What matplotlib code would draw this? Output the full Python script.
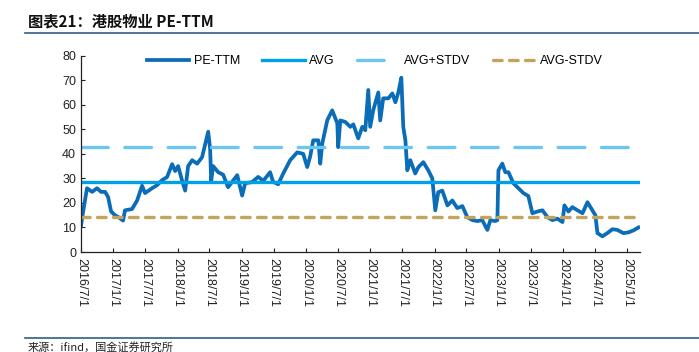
import matplotlib
matplotlib.use("Agg")
import matplotlib.pyplot as plt
import matplotlib.dates as mdates
import pandas as pd

plt.rcParams["font.family"] = ["Liberation Sans", "Noto Sans CJK SC", "DejaVu Sans"]

# PE-TTM of HK-listed property management stocks
DATES = [
    "2016-07-01", "2016-07-12", "2016-08-04", "2016-09-02", "2016-09-30",
    "2016-10-23", "2016-11-15", "2016-12-02", "2016-12-19", "2017-01-10",
    "2017-01-28", "2017-02-25", "2017-03-08", "2017-04-17", "2017-05-16",
    "2017-06-13", "2017-06-30", "2017-08-09", "2017-09-06", "2017-10-05",
    "2017-11-02", "2017-12-01", "2017-12-18", "2018-01-04", "2018-01-27",
    "2018-02-13", "2018-03-02", "2018-03-25", "2018-04-22", "2018-05-20",
    "2018-06-07", "2018-06-24", "2018-07-05", "2018-07-11", "2018-07-22",
    "2018-08-20", "2018-09-17", "2018-10-15", "2018-11-07", "2018-12-06",
    "2019-01-03", "2019-01-20", "2019-03-01", "2019-04-04", "2019-05-03",
    "2019-06-11", "2019-06-28", "2019-07-27", "2019-08-24", "2019-10-03",
    "2019-11-12", "2019-12-16", "2020-01-08", "2020-01-25", "2020-02-11",
    "2020-03-11", "2020-03-22", "2020-04-02", "2020-05-01", "2020-05-29",
    "2020-06-27", "2020-07-02", "2020-07-14", "2020-08-11", "2020-09-09",
    "2020-09-26", "2020-10-24", "2020-11-16", "2020-12-03", "2020-12-20",
    "2020-12-31", "2021-01-17", "2021-02-15", "2021-02-26", "2021-03-15",
    "2021-04-13", "2021-05-06", "2021-05-23", "2021-06-09", "2021-06-26",
    "2021-07-07", "2021-07-19", "2021-07-30", "2021-08-16", "2021-09-13",
    "2021-10-01", "2021-10-29", "2021-11-26", "2021-12-19", "2022-01-05",
    "2022-01-22", "2022-02-14", "2022-03-15", "2022-04-12", "2022-05-10",
    "2022-06-08", "2022-07-06", "2022-08-04", "2022-09-01", "2022-09-29",
    "2022-10-28", "2022-11-14", "2022-12-12", "2022-12-24", "2022-12-30",
    "2023-01-21", "2023-02-07", "2023-02-25", "2023-03-25", "2023-04-17",
    "2023-05-21", "2023-06-18", "2023-07-11", "2023-08-09", "2023-09-06",
    "2023-10-05", "2023-11-02", "2023-11-30", "2023-12-29", "2024-01-09",
    "2024-02-01", "2024-02-23", "2024-03-23", "2024-04-21", "2024-05-19",
    "2024-06-16", "2024-07-03", "2024-07-15", "2024-08-12", "2024-09-09",
    "2024-10-08", "2024-11-05", "2024-12-09", "2025-01-07", "2025-02-04",
    "2025-03-05",
]
PE_TTM = [
    10.6, 16.0, 26.0, 24.5, 26.0,
    24.5, 24.5, 22.4, 16.5, 15.0,
    14.3, 12.8, 17.0, 17.5, 21.0,
    27.0, 24.0, 26.0, 27.2, 29.3,
    30.5, 35.8, 33.0, 35.0, 29.0,
    25.0, 35.0, 37.4, 36.0, 38.6,
    44.0, 49.0, 42.0, 29.0, 35.0,
    32.5, 31.5, 26.4, 28.6, 31.3,
    23.0, 28.0, 28.5, 30.6, 29.0,
    32.5, 28.6, 27.6, 31.9, 37.4,
    40.6, 40.0, 34.6, 39.0, 45.5,
    45.5, 36.0, 44.0, 53.7, 57.7,
    52.4, 42.7, 53.6, 53.0, 51.0,
    52.0, 46.3, 51.0, 49.6, 66.0,
    51.0, 57.7, 65.0, 53.6, 62.6,
    62.6, 64.6, 61.0, 65.0, 71.0,
    51.0, 45.5, 33.3, 37.4, 32.0,
    34.6, 36.6, 33.3, 30.0, 17.0,
    24.4, 25.0, 19.0, 21.0, 17.9,
    18.7, 14.2, 13.0, 12.6, 13.0,
    9.0, 13.0, 12.6, 13.0, 33.3,
    36.0, 32.5, 32.5, 28.0, 26.4,
    24.0, 22.8, 15.8, 16.5, 17.0,
    14.2, 13.0, 13.6, 12.2, 19.0,
    16.5, 18.3, 17.0, 15.8, 20.3,
    17.0, 15.0, 7.7, 6.4, 7.7,
    9.3, 9.0, 7.7, 8.0, 8.8,
    10.0,
]
AVG = 28.5
STDV = 14.2

TICK_DATES = pd.date_range("2016-07-01", "2025-01-01", freq="6MS")

C_PE = "#0b6cb8"
C_AVG = "#00a0e9"
C_UP = "#6cc6f2"
C_DN = "#c4a35c"


def main() -> None:
    dates = pd.to_datetime(DATES)
    first, last = dates[0], dates[-1]

    fig = plt.figure(figsize=(6.99, 3.52), dpi=100)
    ax = fig.add_axes([0.1159, 0.284, 0.8, 0.558])

    ax.plot(dates, PE_TTM, color=C_PE, lw=2.7, label="PE-TTM",
            solid_joinstyle="round")
    ax.plot([first, last], [AVG, AVG], color=C_AVG, lw=2.4, label="AVG")
    ax.plot([first, last], [AVG + STDV] * 2, color=C_UP, lw=2.4,
            dashes=(8, 5), dash_capstyle="round", label="AVG+STDV")
    ax.plot([first, last], [AVG - STDV] * 2, color=C_DN, lw=2.4,
            dashes=(2.6, 2.2), dash_capstyle="round", label="AVG-STDV")

    ax.set_xlim(pd.Timestamp("2016-07-01"), pd.Timestamp("2025-03-15"))
    ax.set_ylim(0, 80)
    ax.set_yticks(range(0, 81, 10))
    ax.set_xticks(TICK_DATES)
    ax.xaxis.set_major_formatter(
        plt.FuncFormatter(lambda v, _: "{0.year}/{0.month}/1".format(
            mdates.num2date(v))))
    for lab in ax.get_xticklabels():
        lab.set_rotation(-90)
    ax.tick_params(axis="both", direction="in", length=3, width=0.8,
                   labelsize=9, colors="#222222")
    ax.tick_params(axis="x", pad=4)
    for s in ("top", "right"):
        ax.spines[s].set_visible(False)
    for s in ("left", "bottom"):
        ax.spines[s].set_color("#222222")
        ax.spines[s].set_linewidth(0.9)

    ax.legend(loc="center", bbox_to_anchor=(0.525, 0.972), ncol=4,
              frameon=False, fontsize=9, handlelength=3.4,
              handletextpad=0.35, columnspacing=1.8)

    fig.text(0.04, 0.94, "图表21：港股物业 PE-TTM", fontsize=11,
             fontweight="bold", style="italic", color="#111111",
             family=["Noto Sans CJK SC", "DejaVu Sans"], va="center")
    fig.add_artist(plt.Line2D([0.036, 1.0], [0.906, 0.906],
                              color="#2f5f86", lw=1.2))
    fig.add_artist(plt.Line2D([0.036, 1.0], [0.040, 0.040],
                              color="#2f5f86", lw=1.2))
    fig.text(0.04, 0.012, "来源：ifind，国金证券研究所", fontsize=8,
             color="#222222", family=["Noto Sans CJK SC", "DejaVu Sans"],
             va="center")

    fig.savefig("out.png", dpi=100)
    plt.close(fig)


if __name__ == "__main__":
    main()
